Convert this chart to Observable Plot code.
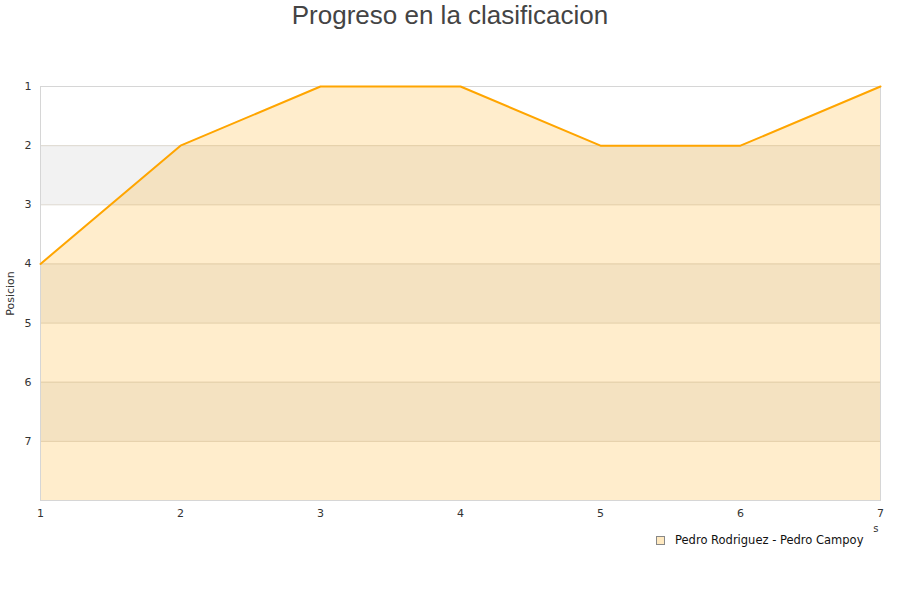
<!DOCTYPE html>
<html>
<head>
<meta charset="utf-8">
<script src="https://cdn.jsdelivr.net/npm/d3@7"></script>
<script src="https://cdn.jsdelivr.net/npm/@observablehq/plot@0.6"></script>
<style>
  body { margin: 0; background: #fff; font-family: "DejaVu Sans", sans-serif; }
  #title { height: 40px; line-height: 32px; text-align: center; font: 26px "Liberation Sans", Arial, sans-serif; color: #444; }
  #legend { position: absolute; left: 656px; top: 533px; font-size: 11.5px; color: #111; display: flex; align-items: center; }
  #legend .sw { width: 7px; height: 7px; border: 1px solid #888; background: #ffe9c0; margin-right: 10px; }
</style>
</head>
<body>
<div id="title">Progreso en la clasificacion</div>
<div id="chart"></div>
<div id="legend"><span class="sw"></span>Pedro Rodriguez - Pedro Campoy</div>
<script>
// Jornadas y posicion en la clasificacion
const jornadas = [1, 2, 3, 4, 5, 6, 7];
const posiciones = [4, 2, 1, 1, 2, 2, 1];
const serie = "Pedro Rodriguez - Pedro Campoy";
const yTicks = [1, 2, 3, 4, 5, 6, 7];
const bandas = [2, 4, 6];
const xLabel = "s"; // the axis title is cut off in the original, only its last letter shows

const data = jornadas.map((j, i) => ({jornada: j, posicion: posiciones[i], serie}));

const plot = Plot.plot({
    width: 900,
    height: 500,
    marginLeft: 40,
    marginRight: 20,
    marginTop: 46,
    marginBottom: 40,
    style: {fontFamily: "DejaVu Sans, sans-serif", fontSize: "11px", color: "#333"},
    x: {
        domain: [1, 7],
        ticks: jornadas,
        tickFormat: "d",
        tickSize: 0,
        tickPadding: 9,
        label: null
    },
    y: {
        domain: [1, 8],
        reverse: true,
        ticks: yTicks,
        tickFormat: "d",
        tickSize: 0,
        tickPadding: 9,
        label: "Posicion",
        labelArrow: "none",
        labelAnchor: "center",
        labelOffset: 34
    },
    marks: [
        Plot.rectY(bandas, {x1: 1, x2: 7, y1: d => d, y2: d => d + 1, fill: "#f2f2f2"}),
        Plot.ruleY(yTicks.slice(1), {stroke: "#e2e2e2"}),
        Plot.areaY(data, {x: "jornada", y1: 8, y2: "posicion", fill: "orange", fillOpacity: 0.2}),
        Plot.ruleY(yTicks.slice(1), {stroke: "#c8a050", strokeOpacity: 0.12}),
        Plot.frame({stroke: "#d6d6d6"}),
        Plot.lineY(data, {x: "jornada", y: "posicion", stroke: "orange", strokeWidth: 2}),
        Plot.text([xLabel], {text: d => d, frameAnchor: "bottom-right", dx: -2, dy: 31, fontSize: 10, fill: "#333"})
    ]
});

document.getElementById('chart').appendChild(plot);
</script>
</body>
</html>
